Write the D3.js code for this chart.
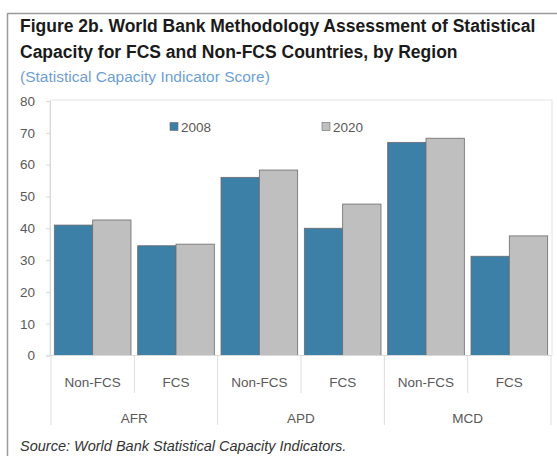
<!DOCTYPE html>
<html>
<head>
<meta charset="utf-8">
<script src="https://cdn.jsdelivr.net/npm/d3@7"></script>
<style>
  html, body { margin: 0; padding: 0; background: #fff; }
  svg { display: block; }
</style>
</head>
<body>
<svg id="chart" width="557" height="456"></svg>
<script>
// Statistical Capacity Indicator scores by region and FCS status
const regions = ["AFR", "APD", "MCD"];
const groups = ["Non-FCS", "FCS"];
const years = ["2008", "2020"];
const values2008 = [41.0, 34.5, 56.0, 40.0, 67.0, 31.2];
const values2020 = [42.6, 35.0, 58.3, 47.6, 68.3, 37.6];
const yTicks = [0, 10, 20, 30, 40, 50, 60, 70, 80];

const colors = { "2008": "#3c80a8", "2020": "#c0bfc0" };

const categories = [];
regions.forEach(r => groups.forEach(g => categories.push({ region: r, group: g, key: r + "|" + g })));
const rows = categories.map((c, i) => ({ ...c, "2008": values2008[i], "2020": values2020[i] }));

const svg = d3.select("#chart");
const W = 557, H = 456;
const plot = { left: 51, right: 551, top: 101, bottom: 355.5 };
const font = "Liberation Sans, Arial, sans-serif";

// outer frame (top and left rules)
svg.append("line").attr("x1", 7.5).attr("x2", W).attr("y1", 13.5).attr("y2", 13.5)
  .attr("stroke", "#9a9a9a").attr("stroke-width", 1.5);
svg.append("line").attr("x1", 7.5).attr("x2", 7.5).attr("y1", 13).attr("y2", H)
  .attr("stroke", "#9a9a9a").attr("stroke-width", 1.5);

// titles
svg.append("text").attr("x", 20).attr("y", 32)
  .attr("font-family", font).attr("font-weight", "bold")
  .attr("font-size", 17.5).attr("fill", "#1a1a1a")
  .text("Figure 2b. World Bank Methodology Assessment of Statistical");
svg.append("text").attr("x", 20).attr("y", 57.5)
  .attr("font-family", font).attr("font-weight", "bold")
  .attr("font-size", 17.5).attr("fill", "#1a1a1a")
  .text("Capacity for FCS and Non-FCS Countries, by Region");
svg.append("text").attr("x", 20).attr("y", 82)
  .attr("font-family", font)
  .attr("font-size", 15.5).attr("fill", "#6d9fd6")
  .text("(Statistical Capacity Indicator Score)");

// scales
const x = d3.scaleBand().domain(categories.map(c => c.key))
  .range([plot.left, plot.right]).paddingInner(0.08).paddingOuter(0.04);
const xInner = d3.scaleBand().domain(years).range([0, x.bandwidth()]);
const y = d3.scaleLinear().domain([0, 80]).range([plot.bottom, plot.top]);

// plot area border
svg.append("rect").attr("x", plot.left - 1).attr("y", plot.top - 1)
  .attr("width", plot.right - plot.left + 2).attr("height", plot.bottom - plot.top + 1)
  .attr("fill", "none").attr("stroke", "#e3e3e3").attr("stroke-width", 1);

// y axis
const yAxis = svg.append("g").attr("transform", `translate(${plot.left - 1},0)`)
  .call(d3.axisLeft(y).tickValues(yTicks).tickSize(4).tickPadding(11));
yAxis.select(".domain").attr("stroke", "#d9d9d9");
yAxis.selectAll(".tick line").attr("stroke", "#d9d9d9");
yAxis.selectAll(".tick text").attr("font-family", font)
  .attr("font-size", 13.5).attr("fill", "#595959");

// bars
const cat = svg.append("g").selectAll("g").data(rows).join("g")
  .attr("transform", d => `translate(${x(d.key)},0)`);
cat.selectAll("rect").data(d => years.map(yr => ({ year: yr, value: d[yr] }))).join("rect")
  .attr("x", d => xInner(d.year))
  .attr("y", d => y(d.value))
  .attr("width", xInner.bandwidth())
  .attr("height", d => y(0) - y(d.value))
  .attr("fill", d => colors[d.year])
  .attr("stroke", "#6b6b6b").attr("stroke-width", 0.8);

// baseline
svg.append("line").attr("x1", plot.left).attr("x2", plot.right)
  .attr("y1", plot.bottom).attr("y2", plot.bottom).attr("stroke", "#d9d9d9");

// multi-level category axis
const gap = x.step() - x.bandwidth();
const boundary = i => x(categories[i].key) - gap / 2;
const axisG = svg.append("g");
categories.forEach((c, i) => {
  const bx = boundary(i);
  const isRegionEdge = i % groups.length === 0;
  axisG.append("line").attr("x1", bx).attr("x2", bx)
    .attr("y1", plot.bottom).attr("y2", isRegionEdge ? 425 : 393)
    .attr("stroke", "#dedede");
  axisG.append("text").attr("x", x(c.key) + x.bandwidth() / 2).attr("y", 387)
    .attr("text-anchor", "middle")
    .attr("font-family", font).attr("font-size", 13.5)
    .attr("fill", "#595959").text(c.group);
});
const lastEdge = x(categories[categories.length - 1].key) + x.bandwidth() + gap / 2;
axisG.append("line").attr("x1", lastEdge).attr("x2", lastEdge)
  .attr("y1", plot.bottom).attr("y2", 425).attr("stroke", "#dedede");
regions.forEach(r => {
  const first = x(r + "|" + groups[0]);
  const last = x(r + "|" + groups[groups.length - 1]) + x.bandwidth();
  axisG.append("text").attr("x", (first + last) / 2).attr("y", 423)
    .attr("text-anchor", "middle")
    .attr("font-family", font).attr("font-size", 13.5)
    .attr("fill", "#595959").text(r);
});

// legend
const legendX = { "2008": 170, "2020": 322 };
years.forEach(yr => {
  const g = svg.append("g").attr("transform", `translate(${legendX[yr]},127)`);
  g.append("rect").attr("x", 0).attr("y", -4.5).attr("width", 8).attr("height", 8)
    .attr("fill", colors[yr]).attr("stroke", "#6b6b6b").attr("stroke-width", 0.6);
  g.append("text").attr("x", 11).attr("y", 4.5)
    .attr("font-family", font).attr("font-size", 13.5)
    .attr("fill", "#595959").text(yr);
});

// source note
svg.append("text").attr("x", 20).attr("y", 451)
  .attr("font-family", font).attr("font-style", "italic")
  .attr("font-size", 14.5).attr("fill", "#333")
  .text("Source: World Bank Statistical Capacity Indicators.");
</script>
</body>
</html>
